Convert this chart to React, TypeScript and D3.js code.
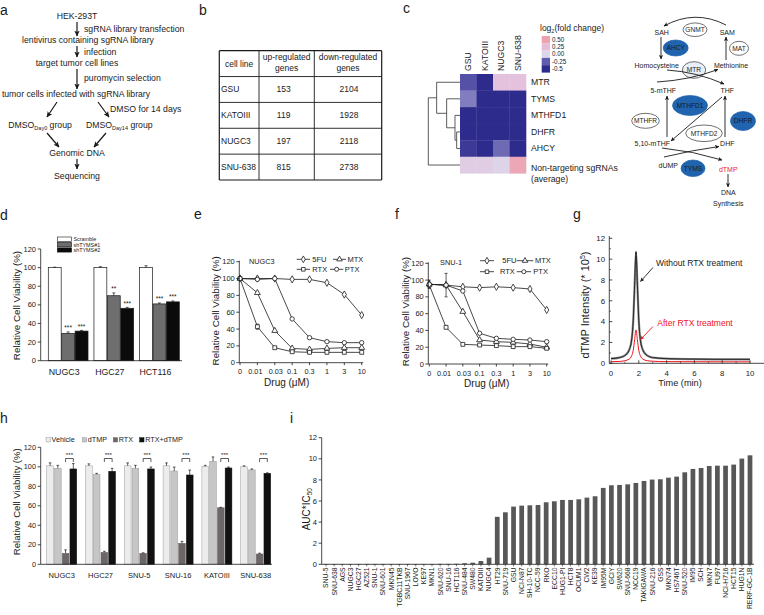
import React from 'react';
import * as d3 from 'd3';

const FONT = '"Liberation Sans", Arial, Helvetica, sans-serif';

// ---------- Panel b data ----------
const tableCellLines = ['GSU', 'KATOIII', 'NUGC3', 'SNU-638'];
const upRegulated = [153, 119, 197, 815];
const downRegulated = [2104, 1928, 2118, 2738];

// ---------- Panel c data ----------
const hmColumns = ['GSU', 'KATOIII', 'NUGC3', 'SNU-638'];
const hmRowNames = ['MTR', 'TYMS', 'MTHFD1', 'DHFR', 'AHCY', 'Non-targeting sgRNAs'];
const fcMTR = [-0.3, -0.5, 0.2, 0.2];
const fcTYMS = [-0.18, -0.5, -0.5, -0.5];
const fcMTHFD1 = [-0.5, -0.5, -0.5, -0.5];
const fcDHFR = [-0.5, -0.5, -0.5, -0.5];
const fcAHCY = [-0.42, -0.5, -0.22, -0.5];
const fcNonTargeting = [0.09, 0.09, 0.02, 0.45];
const legendValues = [0.5, 0.25, 0, -0.25, -0.5];
const legendLabels = ['0.50', '0.25', '0.00', '-0.25', '-0.5'];
// dendrogram merges: [childA, childB, height]
const dendroMerges: [string, string, number][] = [
  ['DHFR', 'AHCY', 0.1],
  ['MTHFD1', 'n1', 0.15],
  ['TYMS', 'n2', 0.4],
  ['MTR', 'n3', 0.7],
  ['n4', 'Non-targeting sgRNAs', 0.95],
];

// ---------- Panel d data ----------
const dGroups = ['NUGC3', 'HGC27', 'HCT116'];
const dSeries = ['Scramble', 'shTYMS#1', 'shTYMS#2'];
const dScramble = [100, 100, 100];
const dScrambleErr = [0.5, 1, 2];
const dSh1 = [29.4, 69.8, 61];
const dSh1Err = [1.5, 3, 1];
const dSh1Sig = ['***', '**', '***'];
const dSh2 = [31.8, 56.3, 63.2];
const dSh2Err = [0.7, 1, 1];
const dSh2Sig = ['***', '***', '***'];

// ---------- Panels e, f data ----------
const doses = ['0', '0.01', '0.03', '0.1', '0.3', '1', '3', '10'];
const e5FU = [100, 100, 100, 99, 99, 95, 81, 56.6];
const eMTX = [100, 83, 38, 17, 15.8, 17, 17.8, 17.8];
const eRTX = [100, 42.8, 17.8, 13, 12.3, 12.3, 12.3, 12.3];
const ePTX = [100, 99, 100, 52, 29.7, 25, 23.8, 23.8];
const eRTXErr = [0, 3, 0, 0, 0, 0, 0, 0];
const f5FU = [95, 94, 92, 91, 92, 91, 89.4, 64.4];
const f5FUErr = [5, 14, 0, 0, 0, 0, 0, 0];
const fMTX = [95, 94, 62.4, 28.6, 26.6, 25.8, 23.8, 19.9];
const fRTX = [94, 43.7, 23.4, 22.6, 21.9, 20.7, 20.7, 18.7];
const fPTX = [95, 94, 87, 36.6, 30.6, 29.4, 28.6, 26.6];

// ---------- Panel g data ----------
const gTimeWithout = [0, 0.6, 1.0, 1.3, 1.5, 1.6, 1.7, 1.8, 1.9, 2.0, 2.1, 2.3, 2.6, 3.0, 4, 6, 8, 10];
const gWithout = [0.45, 0.55, 0.75, 1.25, 2.4, 4.1, 7.5, 10.7, 7.5, 4.1, 2.4, 1.25, 0.75, 0.55, 0.45, 0.4, 0.38, 0.38];
const gTimeAfter = [0, 0.6, 1.0, 1.3, 1.5, 1.6, 1.7, 1.8, 1.9, 2.0, 2.1, 2.3, 2.6, 3.0, 4, 6, 8, 10];
const gAfter = [0.15, 0.18, 0.25, 0.4, 0.76, 1.25, 2.25, 3.2, 2.25, 1.25, 0.76, 0.4, 0.25, 0.2, 0.16, 0.15, 0.14, 0.14];

// ---------- Panel h data ----------
const hGroups = ['NUGC3', 'HGC27', 'SNU-5', 'SNU-16', 'KATOIII', 'SNU-638'];
const hSeries = ['Vehicle', 'dTMP', 'RTX', 'RTX+dTMP'];
const hVehicle = [101, 101, 101, 101, 100.5, 100];
const hVehicleErr = [3, 2, 3, 3, 1, 1];
const hDTMP = [98.5, 92.3, 98.5, 95.7, 105.6, 96.8];
const hDTMPErr = [3, 1, 3, 4, 4.5, 1];
const hRTX = [11.3, 12.3, 11.3, 21.5, 58, 10.6];
const hRTXErr = [3.5, 1, 0.5, 2, 0.5, 0.8];
const hRTXdTMP = [97.8, 95.4, 97.8, 91.6, 98.8, 93.3];
const hRTXdTMPErr = [5.5, 3, 2, 5, 1, 0.5];

// ---------- Panel i data ----------
const iLines = ['SNU-5', 'SNU-638', 'AGS', 'NUGC3', 'HGC27', 'AZ521', 'SNU-1', 'SNU-601', 'MKN45', 'TGBC11TKB', 'SNU-1967', 'LOVO', 'KE97', 'MKN1', 'SNU-620', 'SNU-16', 'HCT116', 'SNU-484', 'SW480', 'KATOIII', 'NUGC4', 'HT29', 'SNU-719', 'GSU', 'NCI-N87', 'SH-10-TC', 'NCC-59', 'RKO', 'ECC10', 'HUG1-PI', 'HCT8', 'OCUM1', 'CW2', 'KE39', 'IM95M', 'GCIY', 'SW620', 'SNU-668', 'NCC19', 'TAKIGAWA', 'SNU-216', 'GSS', 'MKN74', 'HS746T', 'SNU-520', 'IM95', 'SCH', 'MKN7', 'FU97', 'NCI-H716', 'HCT15', 'HUG1N', 'RERF-GC-1B'];
const iValues = [0.03, 0.03, 0.03, 0.03, 0.03, 0.03, 0.03, 0.03, 0.03, 0.03, 0.03, 0.03, 0.03, 0.03, 0.04, 0.04, 0.05, 0.1, 0.15, 0.31, 0.63, 4.5, 4.93, 5.47, 5.56, 5.59, 5.62, 5.88, 5.97, 6.1, 6.1, 6.16, 6.32, 6.45, 7.24, 7.49, 7.52, 7.58, 7.71, 7.9, 8.03, 8.06, 8.21, 8.31, 8.72, 9.04, 9.13, 9.32, 9.35, 9.35, 9.45, 10.02, 10.33];

const INK = '#1a1a1a';

const Arrow = ({ x1, y1, x2, y2, w = 1.2, m = 'ah', c = INK }: any) => (
  <line x1={x1} y1={y1} x2={x2} y2={y2} stroke={c} strokeWidth={w} markerEnd={`url(#${m})`} />
);

// ---------------- Panel a ----------------
const PanelA = () => (
  <g fontSize={8.7} fill={INK}>
    <text x={77} y={19} textAnchor="middle">HEK-293T</text>
    <Arrow x1={77} y1={22} x2={77} y2={36} />
    <text x={84} y={32}>sgRNA library transfection</text>
    <text x={88} y={43} textAnchor="middle">lentivirus containing sgRNA library</text>
    <Arrow x1={77} y1={46} x2={77} y2={57} />
    <text x={84} y={55}>infection</text>
    <text x={77} y={66} textAnchor="middle">target tumor cell lines</text>
    <Arrow x1={77} y1={69} x2={77} y2={89} />
    <text x={84} y={81}>puromycin selection</text>
    <text x={76} y={97} textAnchor="middle">tumor cells infected with sgRNA library</text>
    <Arrow x1={57} y1={102} x2={47} y2={117} />
    <Arrow x1={98} y1={102} x2={109} y2={117} />
    <text x={110} y={112}>DMSO for 14 days</text>
    <text x={8.3} y={128}>DMSO<tspan fontSize={5.5} dy={2}>Day0</tspan><tspan dy={-2}> group</tspan></text>
    <text x={86} y={128}>DMSO<tspan fontSize={5.5} dy={2}>Day14</tspan><tspan dy={-2}> group</tspan></text>
    <Arrow x1={47} y1={133} x2={59} y2={147} />
    <Arrow x1={106} y1={133} x2={94} y2={147} />
    <text x={77} y={156} textAnchor="middle">Genomic DNA</text>
    <Arrow x1={77} y1={159} x2={77} y2={169} />
    <text x={77} y={179} textAnchor="middle">Sequencing</text>
  </g>
);

// ---------------- Panel b ----------------
const PanelB = () => {
  const colX = [219.3, 259, 314.3, 381.7];
  const rowY = d3.range(6).map((i) => 50.7 + i * 25.86);
  return (
    <g fontSize={8.5} fill={INK}>
      {rowY.map((y, i) => (
        <line key={'r' + i} x1={colX[0]} x2={colX[3]} y1={y} y2={y} stroke={INK} strokeWidth={i === 0 || i === 5 ? 1.2 : 0.9} />
      ))}
      {colX.map((x, i) => (
        <line key={'c' + i} x1={x} x2={x} y1={rowY[0]} y2={rowY[5]} stroke={INK} strokeWidth={i === 0 || i === 3 ? 1.2 : 0.9} />
      ))}
      <text x={(colX[0] + colX[1]) / 2} y={67} textAnchor="middle">cell line</text>
      <text x={(colX[1] + colX[2]) / 2} y={60.3} textAnchor="middle">up-regulated</text>
      <text x={(colX[1] + colX[2]) / 2} y={71.3} textAnchor="middle">genes</text>
      <text x={(colX[2] + colX[3]) / 2} y={60.3} textAnchor="middle">down-regulated</text>
      <text x={(colX[2] + colX[3]) / 2} y={71.3} textAnchor="middle">genes</text>
      {tableCellLines.map((c, i) => {
        const cy = (rowY[i + 1] + rowY[i + 2]) / 2 + 3;
        return (
          <g key={c}>
            <text x={221} y={cy}>{c}</text>
            <text x={(colX[1] + colX[2]) / 2 - 3} y={cy} textAnchor="middle">{upRegulated[i]}</text>
            <text x={(colX[2] + colX[3]) / 2 + 1} y={cy} textAnchor="middle">{downRegulated[i]}</text>
          </g>
        );
      })}
    </g>
  );
};

// ---------------- Panel c ----------------
const PanelC = () => {
  const fcRows = [fcMTR, fcTYMS, fcMTHFD1, fcDHFR, fcAHCY, fcNonTargeting];
  const color = d3.scaleLinear<string>().domain([-0.5, -0.25, 0, 0.25, 0.5]).range(['#2d2b8c', '#5f5bad', '#dcd6ea', '#e6bcd8', '#eea2ad']);
  const xs = d3.scaleBand().domain(hmColumns).range([460, 526]);
  const ys = d3.scaleBand().domain(hmRowNames).range([74, 173.3]);
  const hx = d3.scaleLinear().domain([0, 0.95]).range([460, 428.3]);
  const nodePos: Record<string, { x: number; y: number }> = {};
  hmRowNames.forEach((r) => (nodePos[r] = { x: 460, y: ys(r)! + ys.bandwidth() / 2 }));
  const dendroLines: any[] = [];
  dendroMerges.forEach(([a, b, h], i) => {
    const pa = nodePos[a], pb = nodePos[b];
    const x = hx(h);
    nodePos['n' + (i + 1)] = { x, y: (pa.y + pb.y) / 2 };
    dendroLines.push(<line key={'v' + i} x1={x} x2={x} y1={pa.y} y2={pb.y} />);
    dendroLines.push(<line key={'a' + i} x1={x} x2={pa.x} y1={pa.y} y2={pa.y} />);
    dendroLines.push(<line key={'b' + i} x1={x} x2={pb.x} y1={pb.y} y2={pb.y} />);
  });

  const ellipses = [
    { label: 'GNMT', cx: 695, cy: 29.7, rx: 12, ry: 6.8, kind: 'outline' },
    { label: 'AHCY', cx: 675.7, cy: 48, rx: 12.5, ry: 8, kind: 'filled' },
    { label: 'MAT', cx: 739, cy: 48.3, rx: 9.5, ry: 7, kind: 'outline' },
    { label: 'MTR', cx: 694, cy: 70, rx: 11.7, ry: 8.3, kind: 'light' },
    { label: 'MTHFD1', cx: 690, cy: 105.5, rx: 17.5, ry: 10, kind: 'filled' },
    { label: 'MTHFR', cx: 645.5, cy: 120.8, rx: 13.8, ry: 7.5, kind: 'outline' },
    { label: 'DHFR', cx: 743, cy: 121, rx: 12.5, ry: 9.5, kind: 'filled' },
    { label: 'MTHFD2', cx: 704, cy: 133.3, rx: 18.3, ry: 8.3, kind: 'outline' },
    { label: 'TYMS', cx: 693, cy: 168.3, rx: 12, ry: 8.3, kind: 'filled' },
  ];
  const metabolites = [
    { label: 'SAH', x: 661.7, y: 32.3 },
    { label: 'SAM', x: 727.3, y: 32.3 },
    { label: 'Homocysteine', x: 656.7, y: 65.7 },
    { label: 'Methionine', x: 731, y: 65.7 },
    { label: '5-mTHF', x: 663.3, y: 90.7 },
    { label: 'THF', x: 727.3, y: 90.7 },
    { label: '5,10-mTHF', x: 652.3, y: 144 },
    { label: 'DHF', x: 727.3, y: 144 },
    { label: 'dUMP', x: 668.3, y: 165.7 },
    { label: 'DNA', x: 728.3, y: 192.7 },
    { label: 'Synthesis', x: 728.3, y: 203.5 },
  ];
  return (
    <g fill={INK}>
      {fcRows.map((row, ri) =>
        row.map((v, ci) => (
          <rect key={ri + '-' + ci} x={xs(hmColumns[ci])} y={ys(hmRowNames[ri])} width={xs.bandwidth() + 0.3} height={ys.bandwidth() + 0.3} fill={color(v)} />
        ))
      )}
      {hmColumns.map((c) => (
        <text key={c} fontSize={8.7} transform={`translate(${xs(c)! + xs.bandwidth() / 2 + 3},71) rotate(-90)`}>{c}</text>
      ))}
      {hmRowNames.slice(0, 5).map((r) => (
        <text key={r} fontSize={8.7} x={531} y={ys(r)! + ys.bandwidth() / 2 + 3}>{r}</text>
      ))}
      <text fontSize={8.7} x={531} y={171}>Non-targeting sgRNAs</text>
      <text fontSize={8.7} x={531} y={181.5}>(average)</text>
      <g stroke="#333" strokeWidth={0.8}>{dendroLines}</g>
      {/* legend */}
      <text x={540} y={31} fontSize={8.5}>log<tspan fontSize={5.5} dy={2}>2</tspan><tspan dy={-2}>(fold change)</tspan></text>
      {legendValues.map((v, i) => (
        <g key={i}>
          <rect x={541.7} y={36 + i * 7.3} width={8.3} height={7.4} fill={color(v)} />
          <text x={552} y={36 + i * 7.3 + 5.8} fontSize={6.3}>{legendLabels[i]}</text>
        </g>
      ))}
      {/* pathway */}
      {ellipses.map((e) => (
        <g key={e.label}>
          <ellipse cx={e.cx} cy={e.cy} rx={e.rx} ry={e.ry}
            fill={e.kind === 'filled' ? '#2063ae' : e.kind === 'light' ? '#e9eef7' : '#fff'}
            stroke={e.kind === 'filled' ? '#2063ae' : '#333'} strokeWidth={0.7} />
          <text x={e.cx} y={e.cy + 2.4} fontSize={6.6} textAnchor="middle">{e.label}</text>
        </g>
      ))}
      {metabolites.map((m) => (
        <text key={m.label} x={m.x} y={m.y + 2.4} fontSize={7} textAnchor="middle">{m.label}</text>
      ))}
      <text x={728.3} y={171.7} fontSize={7} textAnchor="middle" fill="#e8262c">dTMP</text>
      <g fill="none" stroke={INK} strokeWidth={0.9}>
        <path d="M726,25 Q695,9 664,26" markerEnd="url(#ahs)" />
        <line x1={661} y1={37} x2={661} y2={59} markerEnd="url(#ahs)" />
        <line x1={726} y1={60} x2={726} y2={37} markerEnd="url(#ahs)" />
        <path d="M667,70 Q697,72 724,84" markerEnd="url(#ahs)" />
        <path d="M657,82 Q690,80 718,69.5" markerEnd="url(#ahs)" />
        <line x1={667} y1={137} x2={667} y2={96} markerEnd="url(#ahs)" />
        <line x1={725} y1={137} x2={725} y2={96} markerEnd="url(#ahs)" />
        <line x1={722} y1={97} x2={671} y2={141} markerEnd="url(#ahs)" />
        <path d="M664,157 Q693,150 719,146.5" markerEnd="url(#ahs)" />
        <path d="M662,148 Q693,151 722,160" markerEnd="url(#ahs)" />
        <line x1={728} y1={174} x2={728} y2={187} markerEnd="url(#ahs)" />
      </g>
    </g>
  );
};

// ---------------- Panel d ----------------
const ErrUp = ({ x, y1, y2, cap = 3 }: any) => (
  <g stroke={INK} strokeWidth={0.7}>
    <line x1={x} x2={x} y1={y1} y2={y2} />
    <line x1={x - cap / 2} x2={x + cap / 2} y1={y2} y2={y2} />
  </g>
);

const PanelD = () => {
  const x = d3.scaleBand().domain(dGroups).range([48.3, 179.3]).paddingInner(0.13);
  const xi = d3.scaleBand().domain(dSeries).range([0, x.bandwidth()]).paddingInner(0.04);
  const y = d3.scaleLinear().domain([0, 120]).range([360.7, 249]);
  const vals = [dScramble, dSh1, dSh2];
  const errs = [dScrambleErr, dSh1Err, dSh2Err];
  const sigs = [null, dSh1Sig, dSh2Sig];
  const fills = ['#ffffff', '#6e6e6e', '#0b0b0b'];
  return (
    <g fill={INK}>
      {dGroups.map((g, gi) =>
        dSeries.map((s, si) => {
          const bx = x(g)! + xi(s)!;
          const v = vals[si][gi];
          const top = y(v + errs[si][gi]);
          return (
            <g key={g + s}>
              <rect x={bx} y={y(v)} width={xi.bandwidth()} height={y(0) - y(v)} fill={fills[si]} stroke={INK} strokeWidth={0.7} />
              <ErrUp x={bx + xi.bandwidth() / 2} y1={y(v)} y2={top} />
              {sigs[si] && (
                <text x={bx + xi.bandwidth() / 2} y={top - 1.5} fontSize={6.5} textAnchor="middle">{sigs[si]![gi]}</text>
              )}
            </g>
          );
        })
      )}
      <line x1={40.7} x2={40.7} y1={249} y2={360.7} stroke={INK} strokeWidth={0.8} />
      <line x1={40.7} x2={182} y1={360.7} y2={360.7} stroke={INK} strokeWidth={0.8} />
      {y.ticks(6).map((t) => (
        <g key={t}>
          <line x1={37.7} x2={40.7} y1={y(t)} y2={y(t)} stroke={INK} strokeWidth={0.8} />
          <text x={36} y={y(t) + 2.6} fontSize={7.5} textAnchor="end">{t}</text>
        </g>
      ))}
      {dGroups.map((g) => (
        <text key={g} x={x(g)! + x.bandwidth() / 2 - 4} y={374.5} fontSize={8.8} textAnchor="middle">{g}</text>
      ))}
      <text transform="translate(19.5,305.5) rotate(-90)" fontSize={9.8} textAnchor="middle">Relative Cell Viability (%)</text>
      {dSeries.map((s, i) => (
        <g key={s}>
          <rect x={57.3} y={237 + i * 5.4} width={14.3} height={4.3} fill={fills[i]} stroke={INK} strokeWidth={0.6} />
          <text x={73.5} y={241.2 + i * 5.4} fontSize={5.4}>{s}</text>
        </g>
      ))}
    </g>
  );
};

// ---------------- Panels e, f ----------------
const symbolTypes: Record<string, any> = {
  '5FU': d3.symbolDiamond,
  MTX: d3.symbolTriangle,
  RTX: d3.symbolSquare,
  PTX: d3.symbolCircle,
};

const DoseChart = (p: any) => {
  const x = d3.scalePoint().domain(doses).range([p.xFirst, p.xLast]);
  const y = d3.scaleLinear().domain([0, 120]).range([p.y0, p.y120]);
  const line = d3.line<number>().x((_, i) => x(doses[i])!).y((v) => y(v));
  const sym = (name: string, size = 15) => d3.symbol().type(symbolTypes[name]).size(size)()!;
  return (
    <g fill={INK}>
      {p.series.map((s: any) => (
        <path key={s.name} d={line(s.values)!} fill="none" stroke={INK} strokeWidth={0.8} />
      ))}
      {p.series.map((s: any) =>
        s.values.map((v: number, i: number) => {
          const e = s.errs ? s.errs[i] : 0;
          const cx = x(doses[i])!;
          return (
            <g key={s.name + i}>
              {e > 0 && (
                <g stroke={INK} strokeWidth={0.7}>
                  <line x1={cx} x2={cx} y1={y(v - e)} y2={y(v + e)} />
                  <line x1={cx - 1.5} x2={cx + 1.5} y1={y(v + e)} y2={y(v + e)} />
                  <line x1={cx - 1.5} x2={cx + 1.5} y1={y(v - e)} y2={y(v - e)} />
                </g>
              )}
              <path d={sym(s.name)} transform={`translate(${cx},${y(v)})`} fill="#fff" stroke={INK} strokeWidth={0.8} />
            </g>
          );
        })
      )}
      <line x1={p.axisX} x2={p.axisX} y1={p.y120 - 1} y2={p.y0} stroke={INK} strokeWidth={0.8} />
      <line x1={p.axisX} x2={p.xLast + 1.5} y1={p.y0} y2={p.y0} stroke={INK} strokeWidth={0.8} />
      {y.ticks(6).map((t) => (
        <g key={t}>
          <line x1={p.axisX - 3} x2={p.axisX} y1={y(t)} y2={y(t)} stroke={INK} strokeWidth={0.8} />
          <text x={p.axisX - 4.5} y={y(t) + 2.6} fontSize={7.5} textAnchor="end">{t}</text>
        </g>
      ))}
      {doses.map((d) => (
        <g key={d}>
          <line x1={x(d)} x2={x(d)} y1={p.y0} y2={p.y0 + 2.5} stroke={INK} strokeWidth={0.8} />
          <text x={x(d)! - (d === '0.01' ? 2 : d === '0.03' ? -1 : 0)} y={p.y0 + 11.5} fontSize={7.3} textAnchor="middle">{d}</text>
        </g>
      ))}
      <text x={p.xlabelX} y={p.xlabelY} fontSize={10} textAnchor="middle">Drug (μM)</text>
      <text transform={`translate(${p.ylabelX},${p.ylabelY}) rotate(-90)`} fontSize={9.8} textAnchor="middle">Relative Cell Viability (%)</text>
      <text x={p.titleX} y={p.titleY} fontSize={7.3} textAnchor="middle">{p.title}</text>
      {p.legend.map((l: any) => (
        <g key={l.name}>
          <line x1={l.x1} x2={l.x2} y1={l.y} y2={l.y} stroke={INK} strokeWidth={0.8} />
          <path d={sym(l.name, 13)} transform={`translate(${(l.x1 + l.x2) / 2},${l.y})`} fill="#fff" stroke={INK} strokeWidth={0.8} />
          <text x={l.tx} y={l.y + 2.7} fontSize={7.5}>{l.name}</text>
        </g>
      ))}
    </g>
  );
};

// ---------------- Panel g ----------------
const PanelG = () => {
  const x = d3.scaleLinear().domain([0, 10]).range([611, 750]);
  const y = d3.scaleLinear().domain([0, 12]).range([363.3, 238.3]);
  const lineW = d3.line<number>().x((_, i) => x(gTimeWithout[i])).y((v) => y(v)).curve(d3.curveMonotoneX);
  const lineA = d3.line<number>().x((_, i) => x(gTimeAfter[i])).y((v) => y(v)).curve(d3.curveMonotoneX);
  return (
    <g fill={INK}>
      <path d={lineW(gWithout)!} fill="none" stroke="#8a8a8a" strokeWidth={2.2} />
      <path d={lineW(gWithout)!} fill="none" stroke="#1a1a1a" strokeWidth={0.9} />
      <path d={lineA(gAfter)!} fill="none" stroke="#f0141e" strokeWidth={1} />
      <line x1={609.3} x2={609.3} y1={236} y2={363.3} stroke={INK} strokeWidth={0.8} />
      <line x1={609.3} x2={764} y1={363.3} y2={363.3} stroke={INK} strokeWidth={0.8} />
      {y.ticks(6).map((t) => (
        <g key={t}>
          <line x1={609.3} x2={612.3} y1={y(t)} y2={y(t)} stroke={INK} strokeWidth={0.8} />
          <text x={605} y={y(t) + 2.7} fontSize={7.8} textAnchor="end">{t}</text>
        </g>
      ))}
      {d3.range(1, 12, 2).map((t) => (
        <line key={'m' + t} x1={609.3} x2={611} y1={y(t)} y2={y(t)} stroke={INK} strokeWidth={0.6} />
      ))}
      {x.ticks(5).map((t) => (
        <g key={t}>
          <line x1={x(t)} x2={x(t)} y1={363.3} y2={360.3} stroke={INK} strokeWidth={0.8} />
          <text x={x(t)} y={375.5} fontSize={7.8} textAnchor="middle">{t}</text>
        </g>
      ))}
      {d3.range(1, 11, 2).map((t) => (
        <line key={'mx' + t} x1={x(t)} x2={x(t)} y1={363.3} y2={361.6} stroke={INK} strokeWidth={0.6} />
      ))}
      <text x={680} y={386} fontSize={9.2} textAnchor="middle">Time (min)</text>
      <text transform="translate(589,305) rotate(-90)" fontSize={11} textAnchor="middle">dTMP Intensity (* 10<tspan fontSize={7} dy={-4}>5</tspan><tspan dy={4}>)</tspan></text>
      <text x={656} y={266} fontSize={8.5}>Without RTX treatment</text>
      <Arrow x1={653} y1={267.5} x2={640.5} y2={281.5} w={0.9} m="ahs" />
      <text x={657.3} y={325.5} fontSize={8.5} fill="#f0141e">After RTX treatment</text>
      <Arrow x1={653} y1={326.5} x2={640.5} y2={339.5} w={0.9} m="ahr" c="#f0141e" />
    </g>
  );
};

// ---------------- Panel h ----------------
const PanelH = () => {
  const x = d3.scaleBand().domain(hGroups).range([46.7, 270.7]).paddingInner(0.227);
  const xi = d3.scaleBand().domain(hSeries).range([0, x.bandwidth()]).paddingInner(0.13);
  const y = d3.scaleLinear().domain([0, 120]).range([564.3, 447.3]);
  const vals = [hVehicle, hDTMP, hRTX, hRTXdTMP];
  const errs = [hVehicleErr, hDTMPErr, hRTXErr, hRTXdTMPErr];
  const fills = ['#ececec', '#c6c6c6', '#6c6666', '#111111'];
  const strokes = ['#9a9a9a', '#9a9a9a', '#6c6666', '#111111'];
  const legendX = [46, 82.3, 113.3, 139.7];
  const by = y(108.5);
  return (
    <g fill={INK}>
      {hGroups.map((g, gi) =>
        hSeries.map((s, si) => {
          const bx = x(g)! + xi(s)!;
          const v = vals[si][gi];
          return (
            <g key={g + s}>
              <rect x={bx} y={y(v)} width={xi.bandwidth()} height={y(0) - y(v)} fill={fills[si]} stroke={strokes[si]} strokeWidth={0.5} />
              <ErrUp x={bx + xi.bandwidth() / 2} y1={y(v)} y2={y(v + errs[si][gi])} cap={2.6} />
            </g>
          );
        })
      )}
      {hGroups.map((g) => {
        const x1 = x(g)! + xi('RTX')! + xi.bandwidth() / 2;
        const x2 = x(g)! + xi('RTX+dTMP')! + xi.bandwidth() / 2;
        return (
          <g key={'b' + g}>
            <path d={`M${x1},${by + 3.5}V${by}H${x2}V${by + 3.5}`} fill="none" stroke={INK} strokeWidth={0.7} />
            <text x={(x1 + x2) / 2} y={by - 1.5} fontSize={6.2} textAnchor="middle">***</text>
          </g>
        );
      })}
      <line x1={40.7} x2={40.7} y1={447.3} y2={564.3} stroke={INK} strokeWidth={0.8} />
      <line x1={40.7} x2={272} y1={564.3} y2={564.3} stroke={INK} strokeWidth={0.8} />
      {y.ticks(6).map((t) => (
        <g key={t}>
          <line x1={37.7} x2={40.7} y1={y(t)} y2={y(t)} stroke={INK} strokeWidth={0.8} />
          <text x={36} y={y(t) + 2.6} fontSize={7.3} textAnchor="end">{t}</text>
        </g>
      ))}
      {hGroups.map((g) => (
        <text key={g} x={x(g)! + x.bandwidth() / 2} y={578} fontSize={7.5} textAnchor="middle">{g}</text>
      ))}
      <text transform="translate(19.5,501.7) rotate(-90)" fontSize={9.6} textAnchor="middle">Relative Cell Viability (%)</text>
      {hSeries.map((s, i) => (
        <g key={s}>
          <rect x={legendX[i]} y={437.7} width={4.3} height={4.3} fill={fills[i]} stroke={strokes[i]} strokeWidth={0.5} />
          <text x={legendX[i] + 5.5} y={442.3} fontSize={7.2}>{s}</text>
        </g>
      ))}
    </g>
  );
};

// ---------------- Panel i ----------------
const PanelI = () => {
  const x = d3.scaleBand().domain(iLines).range([322, 754]).paddingInner(0.42).paddingOuter(0.2);
  const y = d3.scaleLinear().domain([0, 12]).range([564.3, 437.7]);
  return (
    <g fill={INK}>
      {iLines.map((l, i) => (
        <rect key={l} x={x(l)} y={y(iValues[i])} width={x.bandwidth()} height={y(0) - y(iValues[i])} fill="#575757" />
      ))}
      <line x1={321.7} x2={321.7} y1={437.7} y2={564.3} stroke={INK} strokeWidth={0.8} />
      <line x1={321.7} x2={754} y1={564.3} y2={564.3} stroke={INK} strokeWidth={0.8} />
      {y.ticks(6).map((t) => (
        <g key={t}>
          <line x1={318.7} x2={321.7} y1={y(t)} y2={y(t)} stroke={INK} strokeWidth={0.8} />
          <text x={317} y={y(t) + 2.6} fontSize={7.5} textAnchor="end">{t}</text>
        </g>
      ))}
      {iLines.map((l) => (
        <g key={'t' + l}>
          <line x1={x(l)! + x.bandwidth() / 2} x2={x(l)! + x.bandwidth() / 2} y1={564.3} y2={566.3} stroke={INK} strokeWidth={0.6} />
          <text transform={`translate(${x(l)! + x.bandwidth() / 2 + 2.4},567.5) rotate(-90)`} fontSize={6.8} textAnchor="end">{l}</text>
        </g>
      ))}
      <text transform="translate(309.5,509.2) rotate(-90)" fontSize={10} textAnchor="middle">AUC*IC<tspan fontSize={6.5} dy={2}>50</tspan></text>
    </g>
  );
};

export default function App() {
  return (
    <svg width={764} height={615} viewBox="0 0 764 615" style={{ position: 'absolute', left: 0, top: 0, background: '#fff' }} fontFamily={FONT}>
      <defs>
        <marker id="ah" viewBox="0 0 10 10" refX="9" refY="5" markerWidth="6" markerHeight="6" markerUnits="userSpaceOnUse" orient="auto">
          <path d="M0,0.5 L10,5 L0,9.5 L2.5,5 z" fill={INK} />
        </marker>
        <marker id="ahs" viewBox="0 0 10 10" refX="9" refY="5" markerWidth="4.5" markerHeight="4.5" markerUnits="userSpaceOnUse" orient="auto">
          <path d="M0,0.5 L10,5 L0,9.5 L2.5,5 z" fill={INK} />
        </marker>
        <marker id="ahr" viewBox="0 0 10 10" refX="9" refY="5" markerWidth="4.5" markerHeight="4.5" markerUnits="userSpaceOnUse" orient="auto">
          <path d="M0,0.5 L10,5 L0,9.5 L2.5,5 z" fill="#f0141e" />
        </marker>
      </defs>
      <rect width={764} height={615} fill="#fff" />
      <g fontSize={14} fill={INK}>
        <text x={0} y={15}>a</text>
        <text x={199} y={15}>b</text>
        <text x={403} y={13}>c</text>
        <text x={0} y={220}>d</text>
        <text x={194} y={219}>e</text>
        <text x={395} y={219}>f</text>
        <text x={573} y={219}>g</text>
        <text x={0} y={423}>h</text>
        <text x={290} y={423}>i</text>
      </g>
      <PanelA />
      <PanelB />
      <PanelC />
      <PanelD />
      <DoseChart
        axisX={239.3} y0={362.7} y120={261.7} xFirst={240} xLast={361.7}
        title="NUGC3" titleX={261.7} titleY={264.3}
        xlabelX={286.7} xlabelY={386} ylabelX={218.5} ylabelY={310.8}
        series={[
          { name: '5FU', values: e5FU },
          { name: 'MTX', values: eMTX },
          { name: 'RTX', values: eRTX, errs: eRTXErr },
          { name: 'PTX', values: ePTX },
        ]}
        legend={[
          { name: '5FU', x1: 296.7, x2: 310, y: 259.3, tx: 312.3 },
          { name: 'MTX', x1: 333, x2: 346, y: 259.3, tx: 347.5 },
          { name: 'RTX', x1: 296.7, x2: 310, y: 269.3, tx: 312.3 },
          { name: 'PTX', x1: 330, x2: 343.3, y: 269.3, tx: 344.8 },
        ]}
      />
      <DoseChart
        axisX={428.3} y0={364} y120={263.3} xFirst={429.3} xLast={546.7}
        title="SNU-1" titleX={451} titleY={265}
        xlabelX={486.7} xlabelY={387} ylabelX={408.5} ylabelY={311.5}
        series={[
          { name: '5FU', values: f5FU, errs: f5FUErr },
          { name: 'MTX', values: fMTX },
          { name: 'RTX', values: fRTX },
          { name: 'PTX', values: fPTX },
        ]}
        legend={[
          { name: '5FU', x1: 480, x2: 494, y: 260.7, tx: 502.3 },
          { name: 'MTX', x1: 516.7, x2: 533.3, y: 260.7, tx: 535 },
          { name: 'RTX', x1: 480, x2: 494, y: 271.7, tx: 500 },
          { name: 'PTX', x1: 516.7, x2: 531, y: 271.7, tx: 533.3 },
        ]}
      />
      <PanelG />
      <PanelH />
      <PanelI />
    </svg>
  );
}
